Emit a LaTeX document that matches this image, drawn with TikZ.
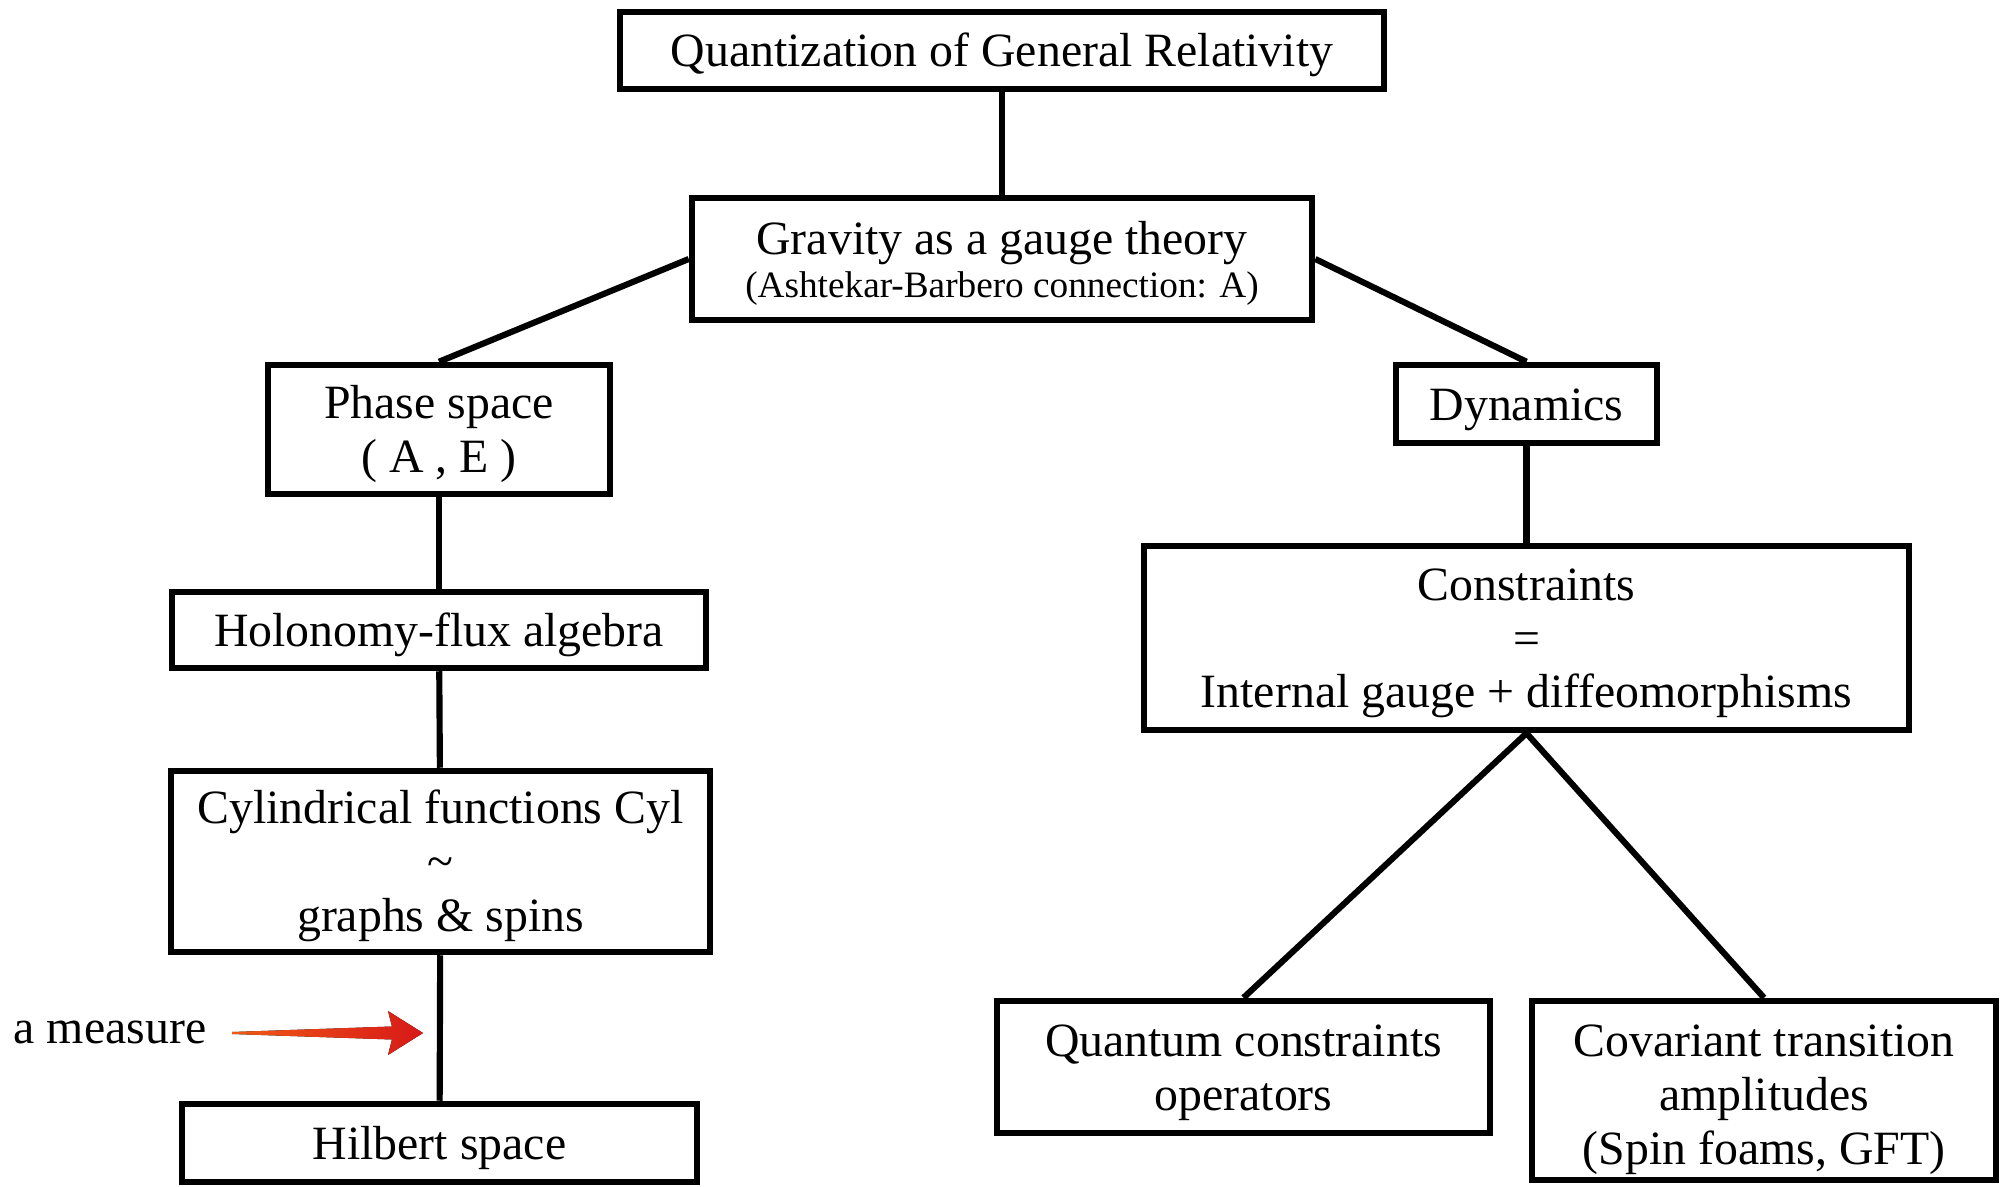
\documentclass[tikz,border=0pt]{standalone}
\usepackage{fontspec}
\setmainfont{Liberation Serif}
\usepackage{tikz}
\usepackage{xcolor}
\definecolor{arrowtail}{RGB}{240,90,20}
\definecolor{arrowhead}{RGB}{215,25,25}
% struts with the ascent and descent of the font
\newcommand{\up}{\rule{0pt}{0.891em}}
\newcommand{\dn}{\rule[-0.216em]{0pt}{0pt}}

\begin{document}
\begin{tikzpicture}[line width=1.85pt,
  box/.style={draw,rectangle,align=center,inner sep=0pt,font=\fontsize{13.6}{15.3}\selectfont},
  link/.style={line width=1.75pt}]
\useasboundingbox (0,0) rectangle (20.08,-11.87);
% upper part
\node[box,minimum width=7.64cm,minimum height=0.77cm] (qgr) at (10.02,-0.505) {\up Quantization of General Relativity\dn};
\node[box,minimum width=6.20cm,minimum height=1.22cm] (gauge) at (10.02,-2.59) {\up Gravity as a gauge theory\\[-3pt]{\fontsize{10.6}{12}\selectfont (Ashtekar-Barbero connection: A)}};
% kinematics
\node[box,minimum width=3.42cm,minimum height=1.29cm] (phase) at (4.39,-4.295) {\up Phase space\\( A , E )};
\node[box,minimum width=5.34cm,minimum height=0.76cm] (holflux) at (4.39,-6.30) {\up Holonomy-flux algebra\dn};
\node[box,minimum width=5.39cm,minimum height=1.81cm] (cyl) at (4.405,-8.615) {\up Cylindrical functions Cyl\\\textasciitilde\\graphs \& spins};
\node[box,minimum width=5.15cm,minimum height=0.78cm] (hilbert) at (4.395,-11.43) {\up Hilbert space\dn};
% dynamics
\node[box,minimum width=2.61cm,minimum height=0.78cm] (dyn) at (15.265,-4.04) {\up Dynamics\dn};
\node[box,minimum width=7.65cm,minimum height=1.84cm] (constr) at (15.265,-6.38) {\up Constraints\\=\\Internal gauge + diffeomorphisms};
\node[box,minimum width=4.93cm,minimum height=1.32cm] (qconstr) at (12.435,-10.67) {\up Quantum constraints\\operators};
\node[box,minimum width=4.64cm,minimum height=1.79cm] (covamp) at (17.64,-10.905) {\rule{0pt}{1.05em}Covariant transition\\amplitudes\\(Spin foams, GFT)};
% connectors
\draw[link] (qgr) -- (gauge);
\draw[link] (gauge.west) -- (phase.north);
\draw[link] (gauge.east) -- (dyn.north);
\draw[link] (phase) -- (holflux);
\draw[link] (holflux) -- (cyl);
\draw[link] (cyl) -- (hilbert);
\draw[link] (dyn) -- (constr);
\draw[link] (constr.south) -- (qconstr.north);
\draw[link] (constr.south) -- (covamp.north);
% the measure
\node[font=\fontsize{13.6}{15.3}\selectfont,inner sep=0pt] (measure) at (1.10,-10.32) {a measure};
\coordinate (tip) at (4.23,-10.33);
\fill[left color=arrowtail,right color=arrowhead,draw=none]
  (2.32,-10.32) -- (3.92,-10.265) -- (3.88,-10.11) -- (tip)
  -- (3.88,-10.55) -- (3.92,-10.395) -- (2.32,-10.34) -- cycle;
\end{tikzpicture}
\end{document}
